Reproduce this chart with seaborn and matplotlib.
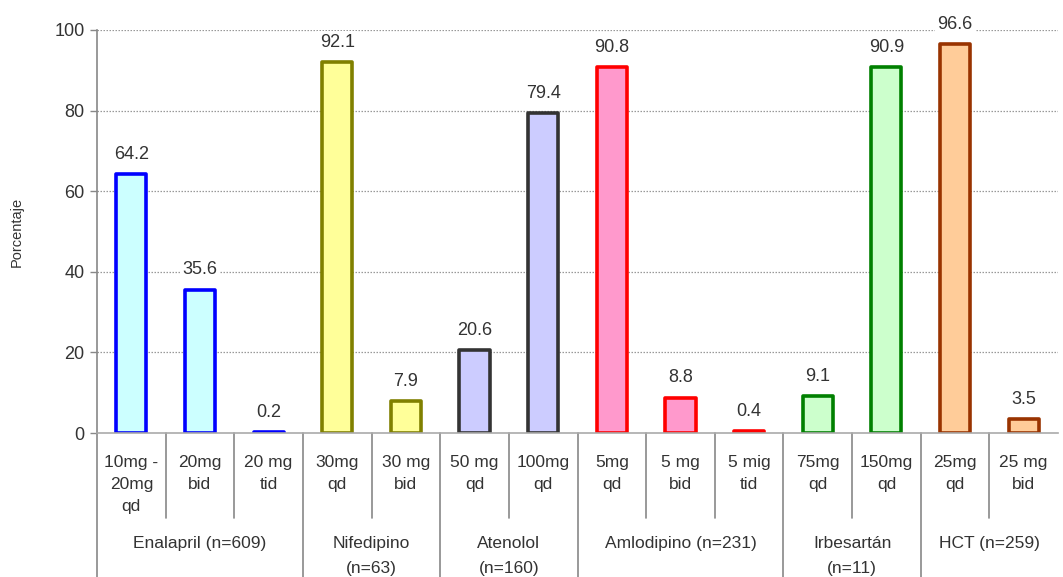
import matplotlib
matplotlib.use("Agg")
import matplotlib.pyplot as plt
import seaborn as sns
import pandas as pd

# ---- data ----
dose_labels = ["10mg -\n20mg\nqd", "20mg\nbid", "20 mg\ntid",
               "30mg\nqd", "30 mg\nbid",
               "50 mg\nqd", "100mg\nqd",
               "5mg\nqd", "5 mg\nbid", "5 mig\ntid",
               "75mg\nqd", "150mg\nqd",
               "25mg\nqd", "25 mg\nbid"]
values = [64.2, 35.6, 0.2, 92.1, 7.9, 20.6, 79.4, 90.8, 8.8, 0.4, 9.1, 90.9, 96.6, 3.5]
groups = ["Enalapril (n=609)", "Nifedipino\n(n=63)", "Atenolol\n(n=160)",
          "Amlodipino (n=231)", "Irbesartán\n(n=11)", "HCT (n=259)"]
group_sizes = [3, 2, 2, 3, 2, 2]
group_fill = ["#CCFFFF", "#FFFF99", "#CCCCFF", "#FF99CC", "#CCFFCC", "#FFCC99"]
group_edge = ["#0000FF", "#808000", "#333333", "#FF0000", "#008000", "#993300"]
y_ticks = [0, 20, 40, 60, 80, 100]
y_label = "Porcentaje"

sns.set_theme(style="white")
plt.rcParams["font.family"] = ["Liberation Sans", "DejaVu Sans"]

fills, edges = [], []
for f, e, n in zip(group_fill, group_edge, group_sizes):
    fills += [f] * n
    edges += [e] * n

df = pd.DataFrame({"dose": dose_labels, "pct": values})

fig = plt.figure(figsize=(10.63, 5.77), dpi=100)
ax = fig.add_axes([97 / 1063, 1 - 433 / 577, (1058 - 97) / 1063, (433 - 30) / 577])

sns.barplot(data=df, x="dose", y="pct", hue="dose", palette=fills, legend=False,
            width=0.44, linewidth=2.6, saturation=1, ax=ax,
            order=dose_labels, hue_order=dose_labels)
for p, ec in zip(ax.patches, edges):
    p.set_edgecolor(ec)
    p.set_joinstyle("round")

ax.set_ylim(0, 100)
ax.set_xlim(-0.5, len(values) - 0.5)
ax.set_yticks(y_ticks)
ax.set_yticklabels([str(t) for t in y_ticks], fontsize=13, color="#333333")
ax.tick_params(axis="y", length=5, width=1, color="#888888", direction="out", pad=4, left=True)
ax.set_xticks([])
ax.set_xlabel("")
ax.set_ylabel(y_label, fontsize=10.5, color="#333333", labelpad=22)

for y in y_ticks[1:]:
    ax.axhline(y, color="#999999", linestyle=(0, (1.2, 1.2)), linewidth=0.9, zorder=0)

for s in ["top", "right"]:
    ax.spines[s].set_visible(False)
ax.spines["left"].set_color("#888888")
ax.spines["bottom"].set_color("#aaaaaa")
ax.spines["left"].set_linewidth(1.2)
ax.spines["bottom"].set_linewidth(1.2)

# value labels
for i, v in enumerate(values):
    ax.annotate(f"{v:.1f}", (i, v), xytext=(0, 8), textcoords="offset points",
                ha="center", va="bottom", fontsize=13, color="#333333",
                bbox=dict(boxstyle="square,pad=0.15", fc="white", ec="none"), zorder=5)

# category table below axis
tr = ax.get_xaxis_transform()
axh = 433 - 30
def yfrac(px):
    return -(px - 433) / axh

for i, lab in enumerate(dose_labels):
    ax.text(i, yfrac(455), lab, transform=tr, ha="center", va="top",
            fontsize=12.5, color="#333333", linespacing=1.6, clip_on=False)

start = 0
bounds = [-0.5]
for g, n in zip(groups, group_sizes):
    center = start + (n - 1) / 2
    ax.text(center, yfrac(536), g, transform=tr, ha="center", va="top",
            fontsize=12.5, color="#333333", linespacing=1.8, clip_on=False)
    for k in range(1, n):
        x = start + k - 0.5
        ax.plot([x, x], [0, yfrac(518)], transform=tr, color="#888888", lw=1.2, clip_on=False)
    start += n
    bounds.append(start - 0.5)

for x in bounds[:-1]:
    ax.plot([x, x], [0, yfrac(577)], transform=tr, color="#888888", lw=1.2, clip_on=False)

fig.savefig("out.png", dpi=100)
